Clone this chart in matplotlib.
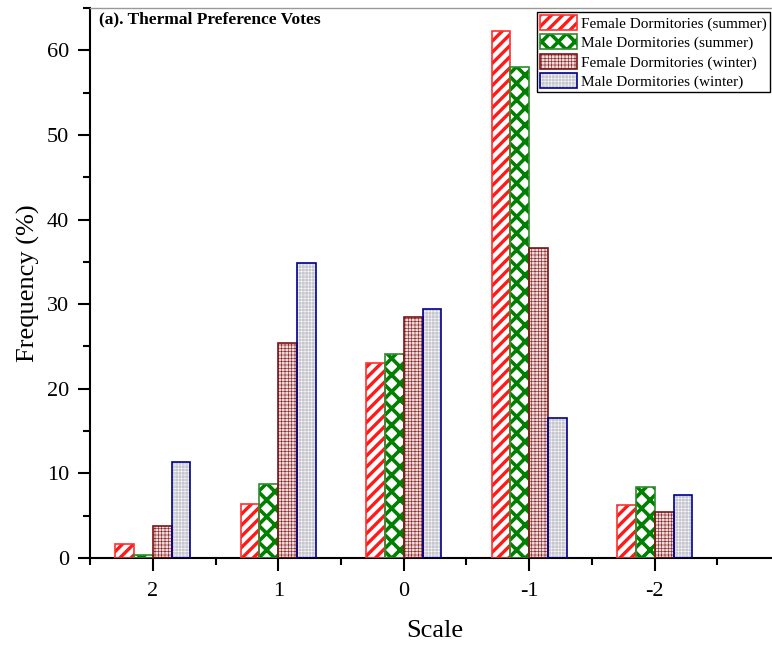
"""Thermal preference votes, grouped bar chart."""

import matplotlib
matplotlib.use("Agg")
import matplotlib.pyplot as plt
import numpy as np
from matplotlib.legend_handler import HandlerTuple
from matplotlib.patches import Rectangle
from matplotlib.ticker import MultipleLocator

plt.rcParams["font.family"] = ["Liberation Serif", "DejaVu Serif"]

scale_labels = ["2", "1", "0", "-1", "-2"]
female_summer = [1.6, 6.4, 23.1, 62.3, 6.3]
male_summer = [0.3, 8.8, 24.1, 58.0, 8.4]
female_winter = [3.8, 25.4, 28.5, 36.6, 5.4]
male_winter = [11.4, 34.9, 29.4, 16.5, 7.5]

series_names = [
    "Female Dormitories (summer)",
    "Male Dormitories (summer)",
    "Female Dormitories (winter)",
    "Male Dormitories (winter)",
]
series_values = [female_summer, male_summer, female_winter, male_winter]

# (face, hatch colour, hatch, hatch width, outline colour)
styles = [
    ("white", "#ff1a1a", "///", 2.4, "#ff3030"),
    ("white", "#008000", "xx", 2.6, "#2e8b2e"),
    ("#eedada", "#8b2a2a", "+++++", 0.45, "#7a1515"),
    ("#c6c6ce", "white", "+++++", 0.35, "#00008b"),
]
hatch_widths = {(st[1], st[2]): st[3] for st in styles}


def draw_bars(ax, x, values, style):
    face, hcolor, hatch, hlw, edge = style
    with plt.rc_context({"hatch.linewidth": hlw}):
        fill = ax.bar(x, values, width=0.15, color=face, edgecolor=hcolor,
                      hatch=hatch, linewidth=0, align="edge", zorder=2)
        for p in fill:
            if hasattr(p, "set_hatch_linewidth"):
                p.set_hatch_linewidth(hlw)
    outline = ax.bar(x, values, width=0.15, fill=False, edgecolor=edge,
                     linewidth=1.2, align="edge", zorder=3)
    return fill[0], outline[0]


fig = plt.figure(figsize=(7.72, 6.49), dpi=100)
ax = fig.add_axes([0.1166, 0.1402, 0.894, 0.8475])

x = np.arange(len(scale_labels))
handles = []
for i, (vals, st) in enumerate(zip(series_values, styles)):
    handles.append(draw_bars(ax, x - 0.3 + i * 0.15, vals, st))

ax.set_xlim(-0.5, 5.0)
ax.set_ylim(0, 65)
ax.set_xticks(x)
ax.set_xticklabels(scale_labels)
ax.set_xticks(np.arange(-0.5, 5.0, 1.0), minor=True)
ax.yaxis.set_major_locator(MultipleLocator(10))
ax.yaxis.set_minor_locator(MultipleLocator(5))
ax.tick_params(axis="both", which="major", direction="out", length=9,
               width=1.5, labelsize=16, pad=6)
ax.tick_params(axis="x", which="major", pad=8)
ax.tick_params(axis="both", which="minor", direction="out", length=5,
               width=1.5)

for side in ["left", "bottom"]:
    ax.spines[side].set_linewidth(1.5)
ax.spines["top"].set_color("#999999")
ax.spines["top"].set_linewidth(1.0)
ax.spines["right"].set_visible(False)

ax.set_ylabel("Frequency (%)", fontsize=19, labelpad=5)
ax.set_xlabel("Scale", fontsize=19, labelpad=14)

ax.text(0.013, 0.993, "(a). Thermal Preference Votes", transform=ax.transAxes,
        fontsize=12.5, fontweight="bold", va="top", ha="left")

leg = ax.legend(handles, series_names, handler_map={tuple: HandlerTuple(ndivide=1, pad=0)},
                loc="upper left", bbox_to_anchor=(0.648, 0.993), borderaxespad=0,
                fontsize=11, frameon=True, fancybox=False, edgecolor="black",
                framealpha=1, handlelength=2.4, handleheight=1.1,
                handletextpad=0.25, labelspacing=0.25, borderpad=0.2)
leg.get_frame().set_linewidth(1.0)
for p in leg.findobj(Rectangle):
    h = p.get_hatch()
    if h is None or not hasattr(p, "set_hatch_linewidth"):
        continue
    for (hc, hp), lw in hatch_widths.items():
        if hp == h and matplotlib.colors.same_color(p.get_edgecolor(), hc):
            p.set_hatch_linewidth(lw)

fig.savefig("out.png", dpi=100)
